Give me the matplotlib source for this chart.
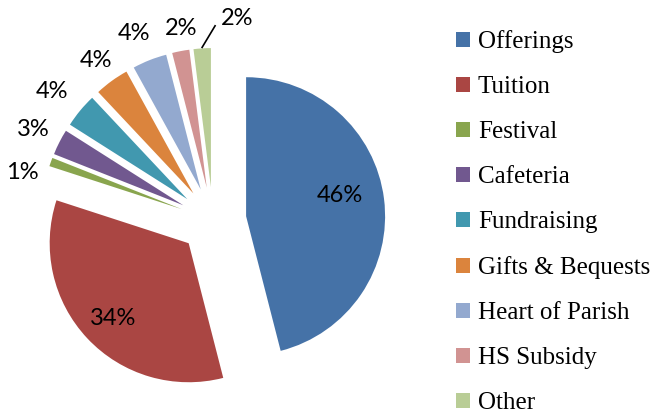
import matplotlib
matplotlib.use("Agg")
import matplotlib.pyplot as plt
import numpy as np

categories = ["Offerings", "Tuition", "Festival", "Cafeteria", "Fundraising",
              "Gifts & Bequests", "Heart of Parish", "HS Subsidy", "Other"]
shares = [46, 34, 1, 3, 4, 4, 4, 2, 2]
colors = ["#4572A7", "#AA4643", "#89A54E", "#71588F", "#4198AF",
          "#DB843D", "#93A9CF", "#D19392", "#B9CD96"]

W, H = 664, 415
fig = plt.figure(figsize=(W / 100, H / 100), dpi=100)
ax = fig.add_axes([0, 0, 1, 1])
cx, cy, R = 213, 194.6, 139
explode = 0.24 * R  # matplotlib explode is in data units

wedges, _ = ax.pie(shares, colors=colors, startangle=90, counterclock=False,
                   explode=[explode] * len(shares), center=(cx, cy), radius=R,
                   wedgeprops=dict(linewidth=0), frame=True)
ax.set_xlim(0, W)
ax.set_ylim(0, H)
ax.set_aspect('equal')
ax.axis('off')

# label positions relative to pie centre, in units of radius
label_pos = [(0.915, 0.18), (-0.72, -0.705), (-1.375, 0.345), (-1.295, 0.655),
             (-1.16, 0.93), (-0.84, 1.148), (-0.565, 1.343), (-0.23, 1.38),
             (0.17, 1.452)]
lab_font = dict(family=["Lato", "DejaVu Sans"], size=17)
for v, (px, py) in zip(shares, label_pos):
    ax.text(cx + px * R, cy + py * R, f"{v}%", ha='center', va='center',
            color='black', **lab_font)

# leader line for last slice
w = wedges[-1]
mid = np.deg2rad((w.theta1 + w.theta2) / 2)
start = (w.center[0] + (w.r + 1) * np.cos(mid), w.center[1] + (w.r + 1) * np.sin(mid))
end = (cx + 0.015 * R, cy + 1.40 * R)
ax.plot([start[0], end[0]], [start[1], end[1]], color='black', lw=1.2)

leg = fig.legend(wedges, categories, loc='upper left',
                 bbox_to_anchor=(456 / W, (H - 43 + 13) / H),
                 frameon=False, borderaxespad=0, borderpad=0,
                 prop=dict(family="Liberation Serif", size=18),
                 handlelength=0.56, handleheight=0.56, handletextpad=0.32,
                 labelspacing=0.92)

fig.savefig("out.png", dpi=100)
